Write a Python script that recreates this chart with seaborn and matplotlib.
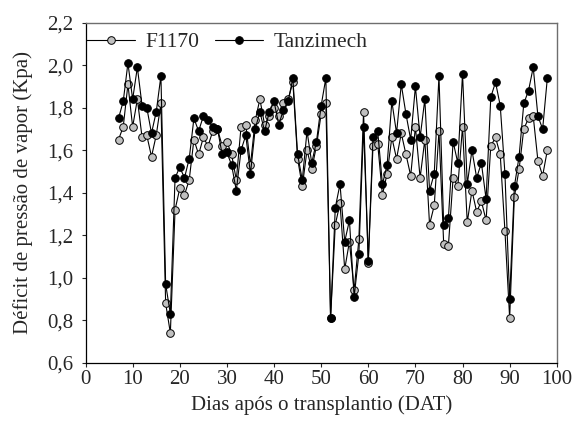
import numpy as np
import pandas as pd
import matplotlib
matplotlib.use('Agg')
import matplotlib.pyplot as plt
from matplotlib.ticker import FuncFormatter
import seaborn as sns

# days after transplanting (DAT)
dias = np.arange(7, 99)

f1170 = [1.65, 1.71, 1.91, 1.71, 1.84, 1.66, 1.67, 1.57, 1.67, 1.82,
         0.88, 0.74, 1.32, 1.42, 1.39, 1.46, 1.65, 1.58, 1.66, 1.62,
         1.69, 1.70, 1.62, 1.64, 1.58, 1.46, 1.71, 1.72, 1.53, 1.74,
         1.84, 1.72, 1.76, 1.80, 1.76, 1.82, 1.84, 1.92, 1.56, 1.43,
         1.60, 1.51, 1.62, 1.77, 1.82, 0.81, 1.25, 1.35, 1.04, 1.17,
         0.94, 1.18, 1.78, 1.07, 1.62, 1.63, 1.39, 1.49, 1.66, 1.56,
         1.68, 1.58, 1.48, 1.71, 1.47, 1.65, 1.25, 1.34, 1.69, 1.16,
         1.15, 1.47, 1.43, 1.71, 1.26, 1.41, 1.31, 1.36, 1.27, 1.62,
         1.66, 1.58, 1.22, 0.81, 1.38, 1.51, 1.70, 1.75, 1.76, 1.55,
         1.48, 1.60]

tanzimech = [1.75, 1.83, 2.01, 1.84, 1.99, 1.81, 1.80, 1.68, 1.78, 1.95,
             0.97, 0.83, 1.47, 1.52, 1.47, 1.56, 1.75, 1.69, 1.76, 1.74,
             1.71, 1.70, 1.58, 1.59, 1.53, 1.41, 1.60, 1.67, 1.49, 1.70,
             1.78, 1.69, 1.78, 1.83, 1.72, 1.79, 1.83, 1.94, 1.58, 1.46,
             1.69, 1.54, 1.64, 1.81, 1.94, 0.81, 1.33, 1.44, 1.17, 1.27,
             0.91, 1.11, 1.71, 1.08, 1.66, 1.69, 1.44, 1.53, 1.83, 1.68,
             1.91, 1.77, 1.65, 1.90, 1.66, 1.84, 1.41, 1.49, 1.95, 1.25,
             1.28, 1.64, 1.54, 1.96, 1.44, 1.60, 1.47, 1.54, 1.37, 1.85,
             1.92, 1.81, 1.49, 0.90, 1.43, 1.57, 1.82, 1.88, 1.99, 1.76,
             1.70, 1.94]

df = pd.DataFrame({'DAT': dias, 'F1170': f1170, 'Tanzimech': tanzimech})

sns.set_style('ticks')
plt.rcParams['font.family'] = ['Liberation Serif', 'DejaVu Serif']

fig = plt.figure(figsize=(5.74, 4.37), dpi=100)
ax = fig.add_axes([0.149, 0.170, 0.821, 0.778])

sns.lineplot(data=df, x='DAT', y='F1170', ax=ax, color='black', linewidth=0.8,
             marker='o', markersize=5.5, markerfacecolor='#c0c0c0',
             markeredgecolor='black', markeredgewidth=0.7, label='F1170')
sns.lineplot(data=df, x='DAT', y='Tanzimech', ax=ax, color='black', linewidth=0.8,
             marker='o', markersize=5.5, markerfacecolor='black',
             markeredgecolor='black', markeredgewidth=0.7, label='Tanzimech')

ax.set_xlim(0, 100)
ax.set_ylim(0.6, 2.2)
ax.set_xticks(range(0, 101, 10))
ax.set_yticks(np.arange(0.6, 2.21, 0.2))
ax.yaxis.set_major_formatter(FuncFormatter(lambda v, p: f'{v:.1f}'.replace('.', ',')))
ax.tick_params(direction='out', length=3, width=0.8, labelsize=15,
               top=False, right=False)
ax.tick_params(axis='x', pad=2)
ax.tick_params(axis='y', pad=6)

ax.set_xlabel('Dias após o transplantio (DAT)', fontsize=15, labelpad=5)
ax.set_ylabel('Déficit de pressão de vapor (Kpa)', fontsize=15, labelpad=10)

for s in ['left', 'bottom']:
    ax.spines[s].set_color('black')
    ax.spines[s].set_linewidth(0.9)
for s in ['top', 'right']:
    ax.spines[s].set_color('#6e6e6e')
    ax.spines[s].set_linewidth(1.0)

ax.legend(loc='upper left', bbox_to_anchor=(-0.012, 0.991), ncol=2, frameon=False,
          fontsize=15.5, borderaxespad=0, borderpad=0.3, handlelength=2.25,
          handletextpad=0.5, columnspacing=0.7)

fig.savefig('out.png', dpi=100)
